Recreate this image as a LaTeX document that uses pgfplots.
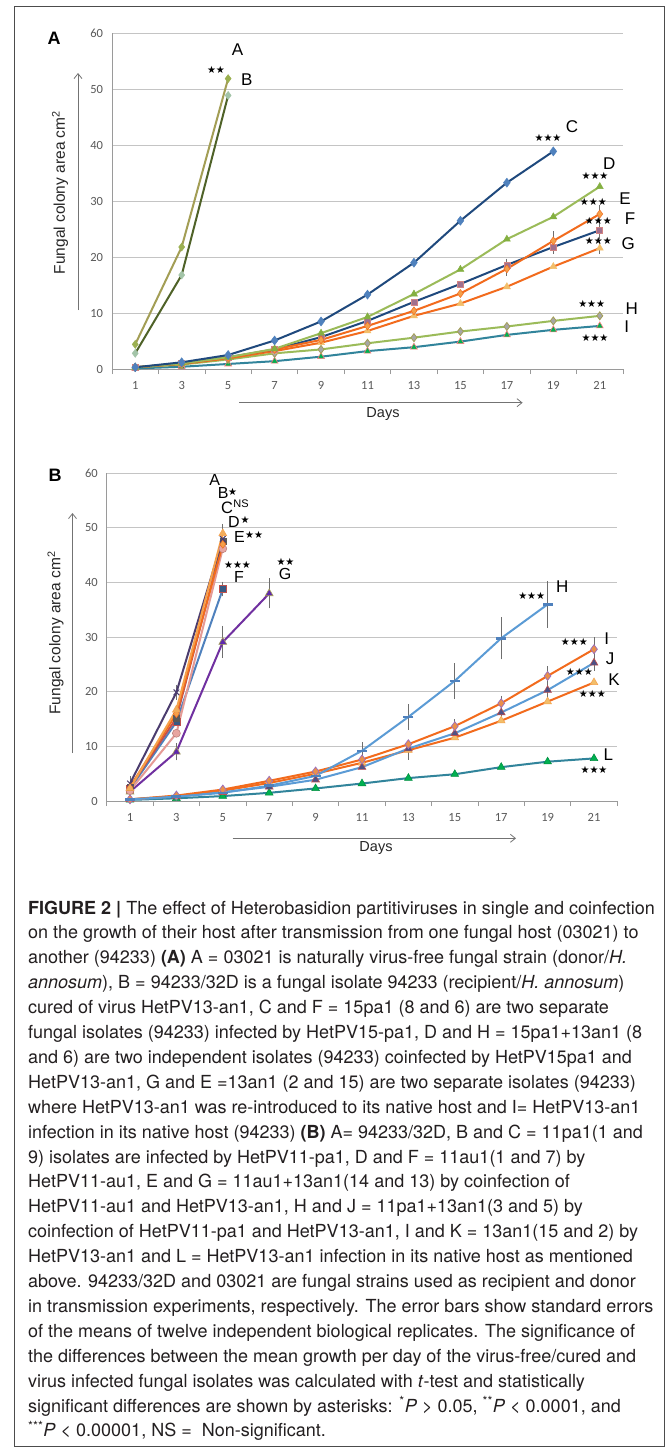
\documentclass[border=0pt]{standalone}
\usepackage{fontspec}
\setmainfont{TeX Gyre Heros}
\newfontfamily\arialf{Liberation Sans}
\newfontfamily\calf{Carlito}
\newfontfamily\starf{DejaVu Sans}
\usepackage{pgfplots}
\pgfplotsset{compat=1.18}
\usetikzlibrary{arrows.meta}
\definecolor{gridgray}{HTML}{C4C4C4}
\definecolor{axgray}{HTML}{9A9A9A}
\definecolor{tickgray}{HTML}{595959}
\definecolor{errgray}{HTML}{6E6E6E}
\definecolor{navy}{HTML}{1F497D}
\definecolor{blueM}{HTML}{4F81BD}
\definecolor{lblue}{HTML}{5B9BD5}
\definecolor{lgreen}{HTML}{9BBB59}
\definecolor{gmark}{HTML}{84B041}
\definecolor{orng}{HTML}{F26B1D}
\definecolor{orngM}{HTML}{F5A04A}
\definecolor{ltor}{HTML}{F2BE6A}
\definecolor{khaki}{HTML}{A39E55}
\definecolor{olive}{HTML}{4F6228}
\definecolor{amark}{HTML}{9BB050}
\definecolor{bmark}{HTML}{A3C4A8}
\definecolor{teal}{HTML}{31849B}
\definecolor{grn}{HTML}{00B050}
\definecolor{pinkb}{HTML}{FF7C80}
\definecolor{mauve}{HTML}{A0708E}
\definecolor{dpurp}{HTML}{4B3C6E}
\definecolor{purp}{HTML}{7030A0}
\definecolor{redb}{HTML}{C0504D}
\definecolor{salmon}{HTML}{E59A95}
\definecolor{pinkc}{HTML}{E8A5A0}
\definecolor{capt}{HTML}{231F20}
\pgfplotsset{
  fgaxis/.style={scale only axis, xmin=0, xmax=22, ymin=0, ymax=60,
    axis x line*=bottom, axis y line*=left,
    axis line style={draw=axgray, line width=1pt},
    xtick={1,3,...,21}, minor xtick={0,2,...,22}, ytick={0,10,...,60},
    tick align=outside, major tick length=0pt, minor tick length=5pt,
    minor tick style={draw=axgray, line width=0.8pt},
    ymajorgrids, major grid style={draw=gridgray, line width=1pt},
    /pgf/number format/assume math mode=true,
    ticklabel style={font=\calf\fontsize{12.5}{13}\selectfont, text=tickgray},
    xticklabel style={yshift=-8.5pt},
    yticklabel style={xshift=-5.5pt},
    clip=false,
    every axis plot/.append style={line width=2pt},
  },
  errb/.style={draw=none, mark=none, forget plot,
    error bars/.cd, y dir=both, y explicit,
    error bar style={draw=errgray, line width=0.9pt},
    error mark options={draw=errgray, line width=0.9pt, mark size=3pt}},
}
\newcommand\lab[3]{\node[font=\arialf\fontsize{17}{17}\selectfont, inner sep=0pt] at (#1pt,-#2pt) {#3};}
\newcommand\slab[3]{\node[font=\arialf\fontsize{16}{16}\selectfont, inner sep=0pt] at (#1pt,-#2pt) {#3};}
\newcommand\st[3]{\node[font=\starf\fontsize{10}{10}\selectfont, inner sep=0pt] at (#1pt,-#2pt) {#3};}
\newcommand\capline[2]{\node[anchor=base west, inner sep=0pt, text=capt, font=\fontsize{18}{20}\selectfont] at (28pt,{-914pt-#1*24.9pt}) {#2};}
\begin{document}
\begin{tikzpicture}
\useasboundingbox (0pt,0pt) rectangle (669pt,-1448pt);
\fill[white] (0pt,0pt) rectangle (669pt,-1448pt);
\draw[color=black!70, line width=1pt] (14pt,-6pt) rectangle (664.5pt,-1446.5pt);

% ---------------- Panel A ----------------
\begin{axis}[fgaxis, at={(112pt,-369pt)}, anchor=south west, width=511pt, height=335.7pt]
\addplot[errb] coordinates {(17,17.9) +- (0,0.7) (19,22.9) +- (0,1.2) (21,27.7) +- (0,1.0)
  (17,18.6) +- (0,0.6) (19,21.8) +- (0,0.7) (21,24.8) +- (0,1.0) (21,21.6) +- (0,0.5)};
\addplot[color=khaki, mark=diamond*, mark size=4pt, mark options={fill=amark, draw=amark, line width=0.5pt}]
  coordinates {(1,4.4)(3,21.8)(5,51.9)};
\addplot[color=olive, mark=diamond*, mark size=4pt, mark options={fill=bmark, draw=bmark, line width=0.5pt}]
  coordinates {(1,2.8)(3,16.8)(5,48.9)};
\addplot[color=teal, mark=triangle*, mark size=4pt, mark options={fill=grn, draw=pinkb, line width=0.6pt}]
  coordinates {(1,0.1)(3,0.4)(5,0.9)(7,1.4)(9,2.2)(11,3.2)(13,3.9)(15,4.9)(17,6.1)(19,7.0)(21,7.7)};
\addplot[color=lgreen, mark=diamond*, mark size=4pt, mark options={fill=black!35, draw=khaki, line width=0.8pt}]
  coordinates {(1,0.3)(3,0.8)(5,1.7)(7,2.8)(9,3.5)(11,4.6)(13,5.6)(15,6.7)(17,7.6)(19,8.6)(21,9.5)};
\addplot[color=orng, mark=triangle*, mark size=4pt, mark options={fill=ltor, draw=ltor, line width=0.5pt}]
  coordinates {(1,0.3)(3,0.9)(5,1.9)(7,3.2)(9,4.7)(11,6.8)(13,9.5)(15,11.7)(17,14.7)(19,18.3)(21,21.6)};
\addplot[color=navy, mark=square*, mark size=3pt, mark options={fill=mauve, draw=redb!70, line width=0.6pt}]
  coordinates {(1,0.3)(3,1.0)(5,2.1)(7,3.5)(9,5.7)(11,8.6)(13,12.0)(15,15.2)(17,18.6)(19,21.8)(21,24.8)};
\addplot[color=orng, mark=diamond*, mark size=4pt, mark options={fill=orngM, draw=orng, line width=0.5pt}]
  coordinates {(1,0.3)(3,1.0)(5,2.0)(7,3.5)(9,5.2)(11,7.7)(13,10.4)(15,13.5)(17,17.9)(19,22.9)(21,27.7)};
\addplot[color=lgreen, mark=triangle*, mark size=4pt, mark options={fill=gmark, draw=gmark, line width=0.5pt}]
  coordinates {(1,0.3)(3,1.0)(5,2.1)(7,3.6)(9,6.4)(11,9.3)(13,13.4)(15,17.8)(17,23.2)(19,27.2)(21,32.6)};
\addplot[color=navy, mark=diamond*, mark size=4.5pt, mark options={fill=blueM, draw=blueM, line width=0.5pt}]
  coordinates {(1,0.3)(3,1.2)(5,2.5)(7,5.1)(9,8.5)(11,13.3)(13,19.0)(15,26.5)(17,33.3)(19,38.9)};
\end{axis}

% ---------------- Panel B ----------------
\begin{axis}[fgaxis, at={(106.8pt,-801pt)}, anchor=south west, width=510.4pt, height=327.7pt]
\addplot[errb] coordinates {(5,49.0) +- (0,1.2) (1,3.2) +- (0,0.8) (3,19.9) +- (0,0.8)
  (3,9.0) +- (0,1.0) (5,29.1) +- (0,2.4) (7,38.0) +- (0,2.2) (5,38.8) +- (0,0.8)
  (11,9.2) +- (0,1.0) (13,15.4) +- (0,1.8) (15,22.0) +- (0,2.7) (17,29.8) +- (0,3.3) (19,36.0) +- (0,3.7)
  (15,13.7) +- (0,0.7) (17,17.9) +- (0,0.8) (19,22.9) +- (0,1.2) (21,27.8) +- (0,1.6)
  (17,16.2) +- (0,0.7) (19,20.3) +- (0,1.2) (21,25.3) +- (0,0.9) (13,9.3) +- (0,1.2)};
% late series
\addplot[color=teal, mark=triangle*, mark size=4.5pt, mark options={fill=grn, draw=grn!80!black, line width=0.5pt}]
  coordinates {(1,0.2)(3,0.5)(5,0.9)(7,1.5)(9,2.3)(11,3.2)(13,4.2)(15,4.9)(17,6.2)(19,7.2)(21,7.8)};
\addplot[color=orng, mark=triangle*, mark size=4.5pt, mark options={fill=ltor, draw=orngM, line width=0.5pt}]
  coordinates {(1,0.3)(3,0.9)(5,1.9)(7,3.3)(9,5.0)(11,7.0)(13,9.3)(15,11.6)(17,14.7)(19,18.2)(21,21.7)};
\addplot[color=lblue, mark=triangle*, mark size=4.5pt, mark options={fill=dpurp!70!blueM, draw=redb, line width=0.6pt}]
  coordinates {(1,0.3)(3,0.8)(5,1.6)(7,2.6)(9,3.9)(11,6.2)(13,9.6)(15,12.4)(17,16.2)(19,20.3)(21,25.3)};
\addplot[color=orng, mark=diamond*, mark size=4.5pt, mark options={fill=orngM!80!redb, draw=purp!70, line width=0.7pt}]
  coordinates {(1,0.3)(3,1.0)(5,2.1)(7,3.7)(9,5.4)(11,7.6)(13,10.4)(15,13.7)(17,17.9)(19,22.9)(21,27.8)};
\addplot[color=lblue, mark=-, mark size=5pt, mark options={draw=blueM, line width=2.5pt}]
  coordinates {(1,0.3)(3,0.8)(5,1.5)(7,2.8)(9,4.6)(11,9.2)(13,15.4)(15,22.0)(17,29.8)(19,36.0)};
% early series
\addplot[color=purp, mark=triangle*, mark size=4.5pt, mark options={fill=purp!85!blue, draw=khaki, line width=0.6pt}]
  coordinates {(1,1.7)(3,9.0)(5,29.1)(7,38.0)};
\addplot[color=blueM, mark=square*, mark size=3.5pt, mark options={fill=blueM!70!black, draw=redb, line width=0.7pt}]
  coordinates {(1,2.2)(3,14.5)(5,38.8)};
\addplot[color=salmon, mark=*, mark size=4pt, mark options={fill=pinkc, draw=salmon!80!black, line width=0.5pt}]
  coordinates {(1,1.9)(3,12.4)(5,46.2)};
\addplot[color=redb, mark=square*, mark size=3pt, mark options={fill=black!65, draw=black!65, line width=0.5pt}]
  coordinates {(1,2.5)(3,15.2)(5,47.5)};
\addplot[color=orng, mark=diamond*, mark size=4pt, mark options={fill=orngM, draw=orng, line width=0.5pt}]
  coordinates {(1,2.6)(3,16.0)(5,47.0)};
\addplot[color=dpurp, mark=x, mark size=4pt, mark options={draw=dpurp, line width=1pt}]
  coordinates {(1,3.2)(3,19.9)(5,48.0)};
\addplot[color=orngM, mark=triangle*, mark size=4.5pt, mark options={fill=ltor!80!orng, draw=orngM, line width=0.5pt}]
  coordinates {(1,2.3)(3,16.7)(5,49.0)};
\end{axis}

% ---------------- decorations panel A ----------------
\node[font=\arialf\bfseries\fontsize{18}{18}\selectfont, inner sep=0pt] at (54pt,-38.3pt) {A};
\node[rotate=90, font=\arialf\fontsize{15.5}{16}\selectfont, text=black!85, inner sep=0pt] at (60pt,-192.5pt) {Fungal colony area cm\textsuperscript{2}};
\draw[draw=black!55, line width=0.8pt, -{Straight Barb[length=5pt,width=8pt]}] (78pt,-310pt) -- (78pt,-73pt);
\draw[draw=black!55, line width=0.8pt, -{Straight Barb[length=5pt,width=8pt]}] (239pt,-402.7pt) -- (522.6pt,-402.7pt);
\node[font=\arialf\fontsize{14.5}{15}\selectfont, text=black!85, inner sep=0pt] at (383pt,-414pt) {Days};
\lab{237.5}{50}{A}
\st{216}{70}{★★}
\lab{246.7}{80}{B}
\lab{572}{127}{C}
\st{548}{138}{★★★}
\lab{609.3}{163.3}{D}
\st{595}{176}{★★★}
\lab{625}{198.3}{E}
\st{593.3}{202}{★★★}
\lab{630}{218.3}{F}
\st{598.3}{221}{★★★}
\lab{628.3}{243.3}{G}
\st{598.3}{241}{★★★}
\st{591.7}{304}{★★★}
\lab{631.7}{308.3}{H}
\lab{626.7}{326.7}{I}
\st{595}{338.3}{★★★}

% ---------------- decorations panel B ----------------
\node[font=\arialf\bfseries\fontsize{18}{18}\selectfont, inner sep=0pt] at (55pt,-475pt) {B};
\node[rotate=90, font=\arialf\fontsize{15.5}{16}\selectfont, text=black!85, inner sep=0pt] at (55.5pt,-633pt) {Fungal colony area cm\textsuperscript{2}};
\draw[draw=black!55, line width=0.8pt, -{Straight Barb[length=5pt,width=8pt]}] (72.5pt,-753pt) -- (72.5pt,-513pt);
\draw[draw=black!55, line width=0.8pt, -{Straight Barb[length=5pt,width=8pt]}] (232.5pt,-838.3pt) -- (516pt,-838.3pt);
\node[font=\arialf\fontsize{14.5}{15}\selectfont, text=black!85, inner sep=0pt] at (376pt,-848pt) {Days};
\slab{214.6}{480}{A}
\slab{223.3}{493.3}{B}
\st{232.7}{491.7}{★}
\node[font=\arialf\fontsize{16.5}{17}\selectfont, inner sep=0pt] at (227pt,-508.3pt) {C};
\node[font=\arialf\fontsize{11}{11}\selectfont, inner sep=0pt] at (241pt,-503.5pt) {NS};
\slab{233.8}{522}{D}
\st{245}{520.3}{★}
\slab{239.5}{536.7}{E}
\st{254.2}{535}{★★}
\st{237.5}{565}{★★★}
\slab{239}{576.7}{F}
\st{285.5}{561.7}{★★}
\slab{285}{574.3}{G}
\lab{562.3}{586.7}{H}
\st{531.7}{596}{★★★}
\lab{606.7}{638.3}{I}
\st{574.3}{641.7}{★★★}
\lab{610}{658.3}{J}
\st{579.3}{671.7}{★★★}
\lab{614}{680}{K}
\st{592.3}{694}{★★★}
\lab{608.3}{755}{L}
\st{594}{770}{★★★}

% ---------------- caption ----------------
\capline{0}{\textbf{FIGURE 2 |} The effect of Heterobasidion partitiviruses in single and coinfection}
\capline{1}{on the growth of their host after transmission from one fungal host (03021) to}
\capline{2}{another (94233) \textbf{(A)} A = 03021 is naturally virus-free fungal strain (donor/\textit{H.}}
\capline{3}{\textit{annosum}), B = 94233/32D is a fungal isolate 94233 (recipient/\textit{H. annosum})}
\capline{4}{cured of virus HetPV13-an1, C and F = 15pa1 (8 and 6) are two separate}
\capline{5}{fungal isolates (94233) infected by HetPV15-pa1, D and H = 15pa1+13an1 (8}
\capline{6}{and 6) are two independent isolates (94233) coinfected by HetPV15pa1 and}
\capline{7}{HetPV13-an1, G and E =13an1 (2 and 15) are two separate isolates (94233)}
\capline{8}{where HetPV13-an1 was re-introduced to its native host and I= HetPV13-an1}
\capline{9}{infection in its native host (94233) \textbf{(B)} A= 94233/32D, B and C = 11pa1(1 and}
\capline{10}{9) isolates are infected by HetPV11-pa1, D and F = 11au1(1 and 7) by}
\capline{11}{HetPV11-au1, E and G = 11au1+13an1(14 and 13) by coinfection of}
\capline{12}{HetPV11-au1 and HetPV13-an1, H and J = 11pa1+13an1(3 and 5) by}
\capline{13}{coinfection of HetPV11-pa1 and HetPV13-an1, I and K = 13an1(15 and 2) by}
\capline{14}{HetPV13-an1 and L = HetPV13-an1 infection in its native host as mentioned}
\capline{15}{above. 94233/32D and 03021 are fungal strains used as recipient and donor}
\capline{16}{in transmission experiments, respectively. The error bars show standard errors}
\capline{17}{of the means of twelve independent biological replicates. The significance of}
\capline{18}{the differences between the mean growth per day of the virus-free/cured and}
\capline{19}{virus infected fungal isolates was calculated with \textit{t}-test and statistically}
\capline{20}{significant differences are shown by asterisks: \textsuperscript{*}\textit{P} > 0.05, \textsuperscript{**}\textit{P} < 0.0001, and}
\capline{21}{\textsuperscript{***}\textit{P} < 0.00001, NS = \ Non-significant.}
\end{tikzpicture}
\end{document}
